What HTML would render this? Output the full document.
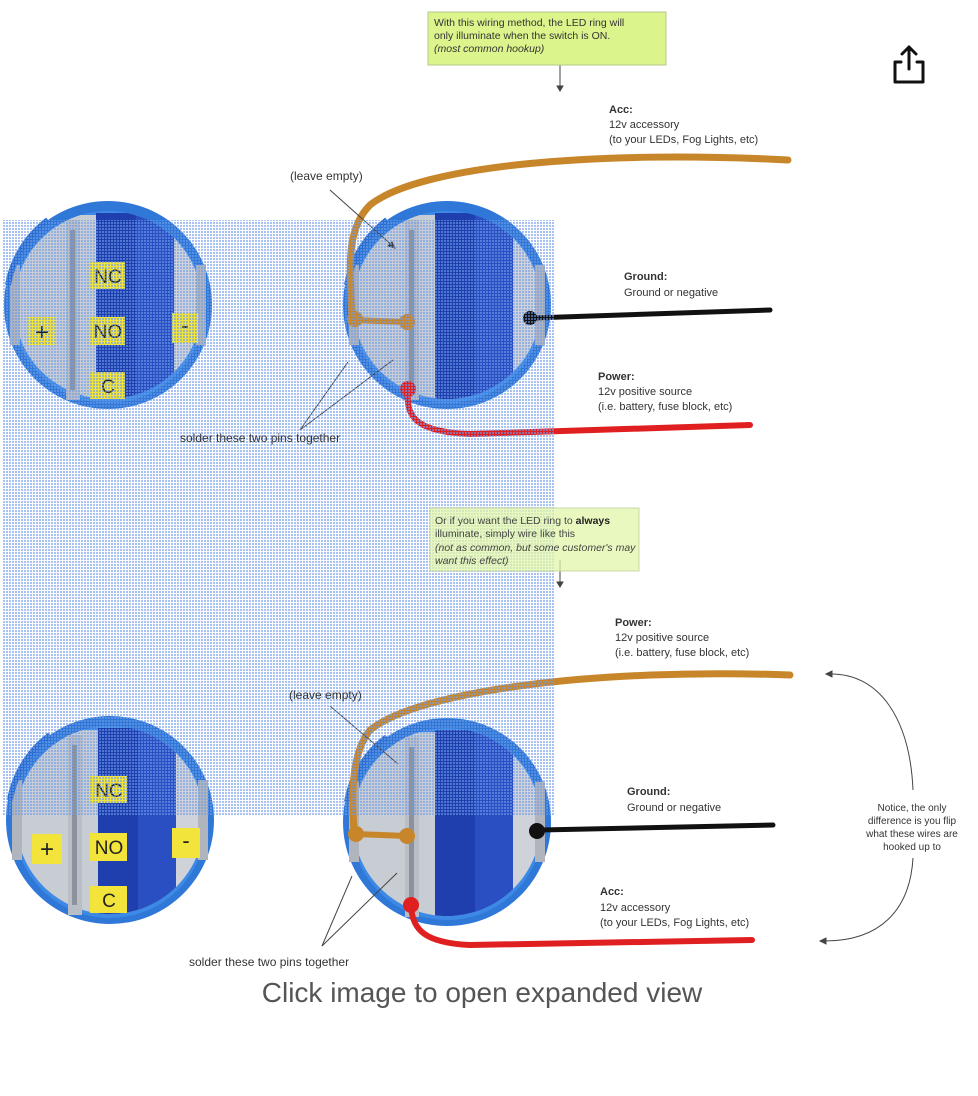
<!DOCTYPE html>
<html><head><meta charset="utf-8"><style>
html,body{margin:0;padding:0;background:#fff;}
svg{display:block;font-family:"Liberation Sans",Arial,sans-serif;}
</style></head><body>
<svg width="978" height="1096" viewBox="0 0 978 1096" xmlns="http://www.w3.org/2000/svg">
<defs>
<pattern id="dots" width="3" height="3" patternUnits="userSpaceOnUse">
<rect width="2" height="2" fill="rgba(110,155,235,0.6)"/>
</pattern>
<clipPath id="cc"><circle cx="0" cy="0" r="94"/></clipPath>
<g id="sw">
<circle r="104" fill="#2f78d8"/>
<circle r="96" cy="2" fill="#3d8ae6"/>
<g clip-path="url(#cc)">
<rect x="-100" y="-90" width="200" height="200" fill="#c8ccd3"/>
<rect x="-12" y="-92" width="78" height="200" fill="#1f3fae"/>
<rect x="28" y="-92" width="38" height="200" fill="#2a4fc2"/>
<rect x="66" y="-80" width="30" height="180" fill="#cfd3d9"/>
</g>
<rect x="-42" y="-85" width="14" height="180" fill="#b9bec6"/>
<rect x="-38" y="-75" width="5" height="160" fill="#8c929b"/>
<rect x="-98" y="-40" width="10" height="80" fill="#b0b5bd"/>
<rect x="88" y="-40" width="10" height="80" fill="#b0b5bd"/>
<path d="M-100,-20 A104,104 0 0 1 -60,-85" stroke="#2a6fd0" stroke-width="6" fill="none"/>
</g>
</defs>

<use href="#sw" x="108" y="305"/>
<use href="#sw" x="447" y="305"/>
<use href="#sw" x="110" y="820"/>
<use href="#sw" x="447" y="822"/>

<g font-size="19" fill="#222" text-anchor="middle">
<rect x="90" y="262" width="35" height="27" fill="#f2e43a"/><text x="108" y="283">NC</text>
<rect x="90" y="317" width="35" height="28" fill="#f2e43a"/><text x="108" y="338">NO</text>
<rect x="90" y="372" width="35" height="27" fill="#f2e43a"/><text x="108" y="393">C</text>
<rect x="28" y="317" width="28" height="28" fill="#f2e43a"/><text x="42" y="340" font-size="24">+</text>
<rect x="172" y="313" width="26" height="30" fill="#f2e43a"/><text x="185" y="333" font-size="22">-</text>
<rect x="90" y="776" width="37" height="27" fill="#f2e43a"/><text x="109" y="797">NC</text>
<rect x="90" y="833" width="37" height="28" fill="#f2e43a"/><text x="109" y="854">NO</text>
<rect x="90" y="886" width="37" height="27" fill="#f2e43a"/><text x="109" y="907">C</text>
<rect x="32" y="834" width="30" height="30" fill="#f2e43a"/><text x="47" y="857" font-size="24">+</text>
<rect x="172" y="828" width="28" height="30" fill="#f2e43a"/><text x="186" y="848" font-size="22">-</text>
</g>

<path d="M788,160 C600,150 420,165 370,205 C345,230 350,270 352,318" stroke="#c8862a" stroke-width="7" fill="none" stroke-linecap="round"/>
<path d="M352,320 L407,322" stroke="#c8862a" stroke-width="6"/>
<circle cx="355" cy="319" r="8" fill="#c8862a"/><circle cx="407" cy="322" r="8" fill="#c8862a"/>
<path d="M532,318 L770,310" stroke="#111" stroke-width="5" stroke-linecap="round"/>
<circle cx="530" cy="318" r="7" fill="#111"/>
<path d="M408,390 C405,420 420,432 470,434 L750,425" stroke="#e02020" stroke-width="6" fill="none" stroke-linecap="round"/>
<circle cx="408" cy="389" r="8" fill="#e02020"/>

<path d="M790,675 C600,668 420,690 370,730 C350,755 352,800 354,832" stroke="#c8862a" stroke-width="7" fill="none" stroke-linecap="round"/>
<path d="M354,834 L407,836" stroke="#c8862a" stroke-width="6"/>
<circle cx="356" cy="834" r="8" fill="#c8862a"/><circle cx="407" cy="836" r="8" fill="#c8862a"/>
<path d="M540,830 L773,825" stroke="#111" stroke-width="5" stroke-linecap="round"/>
<circle cx="537" cy="831" r="8" fill="#111"/>
<path d="M411,905 C412,930 425,943 470,945 L752,940" stroke="#e02020" stroke-width="6" fill="none" stroke-linecap="round"/>
<circle cx="411" cy="905" r="8" fill="#e02020"/>

<g stroke="#444" stroke-width="1" fill="none">
<path d="M330,190 L395,248"/><path d="M395,248 l-7,-2 l4,-4z" fill="#444"/>
<path d="M300,430 L348,362"/><path d="M300,430 L393,360"/>
<path d="M330,706 L398,764"/>
<path d="M322,946 L352,876"/><path d="M322,946 L397,873"/>
<path d="M560,65 L560,88"/><path d="M557,86 l3,5 l3,-5z" fill="#444"/>
<path d="M560,560 L560,584"/><path d="M557,582 l3,5 l3,-5z" fill="#444"/>
<path d="M828,674 C880,672 910,720 913,790"/>
<path d="M913,858 C910,910 880,942 822,941"/>
<path d="M826,674 l6,-3 l0,6z" fill="#444"/><path d="M820,941 l6,-3 l0,6z" fill="#444"/>
</g>

<rect x="3" y="220" width="552" height="595" fill="url(#dots)"/>

<rect x="428" y="12" width="238" height="53" fill="#dcf48c" stroke="#b5c98a"/>
<g font-size="10.5" fill="#333">
<text x="434" y="26">With this wiring method, the LED ring will</text>
<text x="434" y="39">only illuminate when the switch is ON.</text>
<text x="434" y="52" font-style="italic">(most common hookup)</text>
</g>
<rect x="430" y="508" width="209" height="63" fill="rgba(225,245,170,0.75)" stroke="#c8d8a8"/>
<g font-size="10.5" fill="#444">
<text x="435" y="524">Or if you want the LED ring to <tspan font-weight="bold" fill="#222">always</tspan></text>
<text x="435" y="537">illuminate, simply wire like this</text>
<text x="435" y="551" font-style="italic">(not as common, but some customer's may</text>
<text x="435" y="564" font-style="italic">want this effect)</text>
</g>

<g font-size="11" fill="#333">
<text x="609" y="113" font-weight="bold">Acc:</text>
<text x="609" y="128">12v accessory</text>
<text x="609" y="143">(to your LEDs, Fog Lights, etc)</text>
<text x="624" y="280" font-weight="bold">Ground:</text>
<text x="624" y="296">Ground or negative</text>
<text x="598" y="380" font-weight="bold">Power:</text>
<text x="598" y="395">12v positive source</text>
<text x="598" y="410">(i.e. battery, fuse block, etc)</text>
<text x="615" y="626" font-weight="bold">Power:</text>
<text x="615" y="641">12v positive source</text>
<text x="615" y="656">(i.e. battery, fuse block, etc)</text>
<text x="627" y="795" font-weight="bold">Ground:</text>
<text x="627" y="811">Ground or negative</text>
<text x="600" y="895" font-weight="bold">Acc:</text>
<text x="600" y="911">12v accessory</text>
<text x="600" y="926">(to your LEDs, Fog Lights, etc)</text>
<text x="290" y="180" font-size="12">(leave empty)</text>
<text x="180" y="442" font-size="12">solder these two pins together</text>
<text x="289" y="699" font-size="12">(leave empty)</text>
<text x="189" y="966" font-size="12">solder these two pins together</text>
</g>
<g font-size="10" fill="#333" text-anchor="middle">
<text x="912" y="811">Notice, the only</text>
<text x="912" y="824">difference is you flip</text>
<text x="912" y="837">what these wires are</text>
<text x="912" y="850">hooked up to</text>
</g>

<g stroke="#111" stroke-width="3" fill="none" stroke-linecap="round" stroke-linejoin="round">
<path d="M901,62 L895,62 L895,82 L923,82 L923,62 L917,62"/>
<path d="M909,69 L909,47"/><path d="M902,54 L909,47 L916,54"/>
</g>

<text x="482" y="1002" font-size="28" fill="#555" text-anchor="middle">Click image to open expanded view</text>
</svg>
</body></html>
